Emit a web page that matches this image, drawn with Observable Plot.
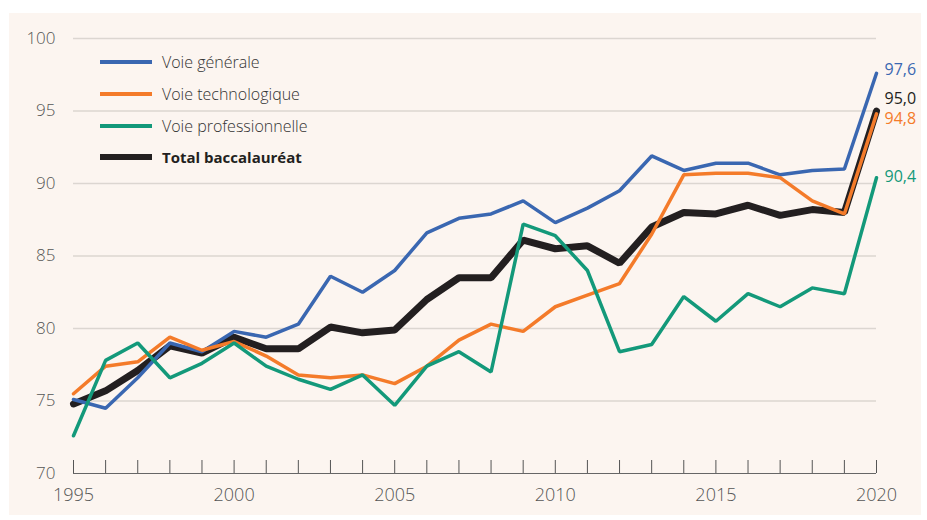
<!DOCTYPE html>
<html>
<head>
<meta charset="utf-8">
<script src="https://cdn.jsdelivr.net/npm/d3@7"></script>
<script src="https://cdn.jsdelivr.net/npm/@observablehq/plot@0.6"></script>
<style>
  html, body { margin: 0; padding: 0; background: #ffffff; }
  #wrap { position: relative; width: 927px; height: 520px; overflow: hidden; font-family: "Open Sans", Lato, sans-serif; }
  #panel { position: absolute; left: 9px; top: 13px; width: 912px; height: 502px; background: #fcf5f0; }
  #chart { position: absolute; left: 0; top: 0; }
  #legend { position: absolute; left: 100px; top: 50px; }
  .item { position: absolute; left: 0; height: 24px; display: flex; align-items: center; white-space: nowrap; font-size: 16px; font-weight: 300; color: #333; }
  .sw { width: 52px; margin-right: 10px; }
</style>
</head>
<body>
<div id="wrap">
  <div id="panel"></div>
  <div id="chart"></div>
  <div id="legend"></div>
</div>
<script>
const years = d3.range(1995, 2021);
const seriesNames = ["Voie générale", "Voie technologique", "Voie professionnelle", "Total baccalauréat"];
const seriesColors = ["#3a67b1", "#f47b2a", "#13997a", "#231f20"];
const generale = [75.1, 74.5, 76.6, 79.0, 78.4, 79.8, 79.4, 80.3, 83.6, 82.5, 84.0, 86.6, 87.6, 87.9, 88.8, 87.3, 88.3, 89.5, 91.9, 90.9, 91.4, 91.4, 90.6, 90.9, 91.0, 97.6];
const techno = [75.5, 77.4, 77.7, 79.4, 78.5, 79.1, 78.1, 76.8, 76.6, 76.8, 76.2, 77.4, 79.2, 80.3, 79.8, 81.5, 82.3, 83.1, 86.5, 90.6, 90.7, 90.7, 90.4, 88.8, 87.9, 94.8];
const pro = [72.6, 77.8, 79.0, 76.6, 77.6, 79.0, 77.4, 76.5, 75.8, 76.8, 74.7, 77.4, 78.4, 77.0, 87.2, 86.4, 84.0, 78.4, 78.9, 82.2, 80.5, 82.4, 81.5, 82.8, 82.4, 90.4];
const total = [74.8, 75.7, 77.1, 78.8, 78.3, 79.4, 78.6, 78.6, 80.1, 79.7, 79.9, 82.0, 83.5, 83.5, 86.1, 85.5, 85.7, 84.5, 87.0, 88.0, 87.9, 88.5, 87.8, 88.2, 88.0, 95.0];
const yTicks = [70, 75, 80, 85, 90, 95, 100];
const xTicks = [1995, 2000, 2005, 2010, 2015, 2020];

const allSeries = [generale, techno, pro, total];
const rows = [];
allSeries.forEach((vals, i) => years.forEach((y, j) => rows.push({serie: seriesNames[i], year: y, value: vals[j]})));
const bySerie = name => rows.filter(r => r.serie === name);
const last = name => bySerie(name).filter(r => r.year === years[years.length - 1]);
const fmt = v => v.toFixed(1).replace(".", ",");

const font = "'Open Sans', Lato, sans-serif";

const labelDy = [-3, 5, -1, -12];

const plot = Plot.plot({
  width: 927,
  height: 520,
  marginLeft: 73,
  marginRight: 51,
  marginTop: 38,
  marginBottom: 47,
  style: { background: "transparent", fontFamily: font, fontSize: "17px", fontWeight: 300, overflow: "visible" },
  x: { domain: [1995, 2020] },
  y: { domain: [70, 100] },
  marks: [
    Plot.ruleY(yTicks.filter(t => t > 70), { stroke: "#dcd6d1", strokeWidth: 1.5 }),
    Plot.ruleX(years, { x: d => d, stroke: "#555", strokeWidth: 1, insetTop: 422 }),
    Plot.ruleY([70], { stroke: "#666", strokeWidth: 1.2 }),
    Plot.axisY(yTicks, { tickSize: 0, tickPadding: 18, fontSize: 17, fill: "#555", label: null }),
    Plot.axisX(xTicks, { tickSize: 0, tickPadding: 15, fontSize: 18, fill: "#555", label: null, tickFormat: d => String(d) }),
    Plot.line(bySerie(seriesNames[3]), { x: "year", y: "value", stroke: seriesColors[3], strokeWidth: 7, strokeLinejoin: "miter" }),
    Plot.line(bySerie(seriesNames[0]), { x: "year", y: "value", stroke: seriesColors[0], strokeWidth: 3.5, strokeLinejoin: "miter" }),
    Plot.line(bySerie(seriesNames[1]), { x: "year", y: "value", stroke: seriesColors[1], strokeWidth: 3.5, strokeLinejoin: "miter" }),
    Plot.line(bySerie(seriesNames[2]), { x: "year", y: "value", stroke: seriesColors[2], strokeWidth: 3.5, strokeLinejoin: "miter" }),
    ...seriesNames.map((n, i) => Plot.text(last(n), {
      x: "year", y: "value", text: d => fmt(d.value), fill: seriesColors[i],
      textAnchor: "start", dx: 8, dy: labelDy[i], fontSize: 16, fontWeight: 400
    }))
  ]
});
document.getElementById("chart").appendChild(plot);

const legend = document.getElementById("legend");
const legendTops = [0, 32, 64, 95];
seriesNames.forEach((n, i) => {
  const it = document.createElement("div");
  it.className = "item";
  it.style.top = legendTops[i] + "px";
  const sw = document.createElement("span");
  sw.className = "sw";
  sw.style.height = (i === 3 ? 6 : 4) + "px";
  sw.style.background = seriesColors[i];
  const tx = document.createElement("span");
  tx.textContent = n;
  if (i === 3) { tx.style.fontWeight = "bold"; tx.style.color = "#231f20"; tx.style.fontSize = "15px"; }
  it.appendChild(sw); it.appendChild(tx);
  legend.appendChild(it);
});
</script>
</body>
</html>
